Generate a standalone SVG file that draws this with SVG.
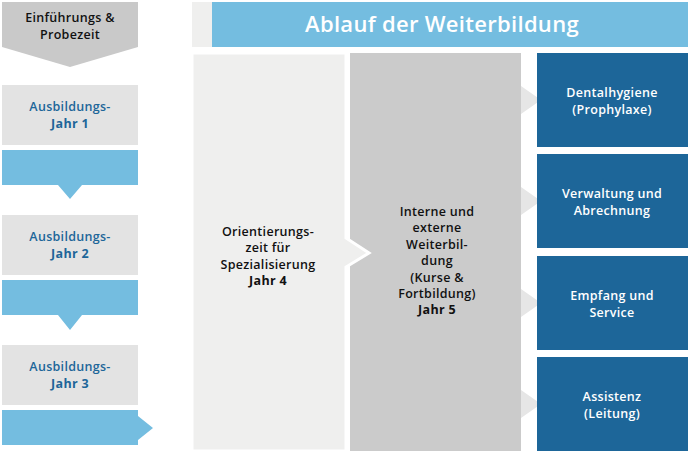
<svg xmlns="http://www.w3.org/2000/svg" width="690" height="453" viewBox="0 0 690 453">
<style>
text{font-family:"Open Sans","Liberation Sans",sans-serif;font-size:12.5px;letter-spacing:0.3px;font-weight:600;text-anchor:middle}
.lb{fill:#1d6699}.dk{fill:#111}.wh{fill:#fff}
.b{font-weight:700}
</style>
<rect width="690" height="453" fill="#fff"/>
<g id="einfuehrung"><polygon points="2,2 138,2 138,47 70,67 2,47" fill="#c9c9c9"/>
<text class="dk" x="70" y="22">Einführungs &amp;</text><text class="dk" x="70" y="39">Probezeit</text></g>
<g id="jahr1"><rect x="2" y="85" width="136" height="60" fill="#e3e3e3"/>
<text class="lb" x="70" y="111">Ausbildungs-</text><text class="lb b" x="70" y="128">Jahr 1</text></g>
<g id="arrow1"><polygon points="2,150 138,150 138,185 82,185 70,199 58,185 2,185" fill="#74bde0"/></g>
<g id="jahr2"><rect x="2" y="215" width="136" height="60" fill="#e3e3e3"/>
<text class="lb" x="70" y="241">Ausbildungs-</text><text class="lb b" x="70" y="258">Jahr 2</text></g>
<g id="arrow2"><polygon points="2,280 138,280 138,315 82,315 70,330 58,315 2,315" fill="#74bde0"/></g>
<g id="jahr3"><rect x="2" y="345" width="136" height="60" fill="#e3e3e3"/>
<text class="lb" x="70" y="371">Ausbildungs-</text><text class="lb b" x="70" y="388">Jahr 3</text></g>
<g id="arrow3"><polygon points="2,410 138,410 138,416 153,428 138,440 138,445 2,445" fill="#74bde0"/></g>
<g id="header"><rect x="192" y="2" width="20" height="45" fill="#efefee"/><rect x="212" y="2" width="476" height="45" fill="#74bde0"/>
<text class="wh" x="442" y="32" style="font-size:22px">Ablauf der Weiterbildung</text></g>
<g id="grey"><rect x="350" y="53" width="171" height="398" fill="#cbcbcb"/>
<text class="dk" x="437" y="216">Interne und</text><text class="dk" x="437" y="232">externe</text><text class="dk" x="437" y="249">Weiterbil-</text><text class="dk" x="437" y="265">dung</text><text class="dk" x="437" y="282">(Kurse &amp;</text><text class="dk" x="437" y="298">Fortbildung)</text><text class="dk b" x="437" y="314">Jahr 5</text></g>
<g id="orient"><polygon points="192,53 346,53 346,238 369,253 346,267 346,451 192,451" fill="#efefee" stroke="#fff" stroke-width="3"/>
<text class="dk" x="268" y="236">Orientierungs-</text><text class="dk" x="268" y="252">zeit für</text><text class="dk" x="268" y="269">Spezialisierung</text><text class="dk b" x="268" y="285">Jahr 4</text></g>
<g id="connectors" fill="#e6e6e6">
<polygon points="521,86 541,100 521,114"/><polygon points="521,187 541,201 521,215"/><polygon points="521,289 541,303 521,317"/><polygon points="521,390 541,404 521,418"/>
</g>
<g id="b1"><rect x="537" y="53" width="151" height="94" fill="#1d6699"/><text class="wh" x="612" y="97">Dentalhygiene</text><text class="wh" x="612" y="114">(Prophylaxe)</text></g>
<g id="b2"><rect x="537" y="154" width="151" height="94" fill="#1d6699"/><text class="wh" x="612" y="198">Verwaltung und</text><text class="wh" x="612" y="215">Abrechnung</text></g>
<g id="b3"><rect x="537" y="256" width="151" height="94" fill="#1d6699"/><text class="wh" x="612" y="300">Empfang und</text><text class="wh" x="612" y="317">Service</text></g>
<g id="b4"><rect x="537" y="357" width="151" height="94" fill="#1d6699"/><text class="wh" x="612" y="401">Assistenz</text><text class="wh" x="612" y="418">(Leitung)</text></g>
</svg>
